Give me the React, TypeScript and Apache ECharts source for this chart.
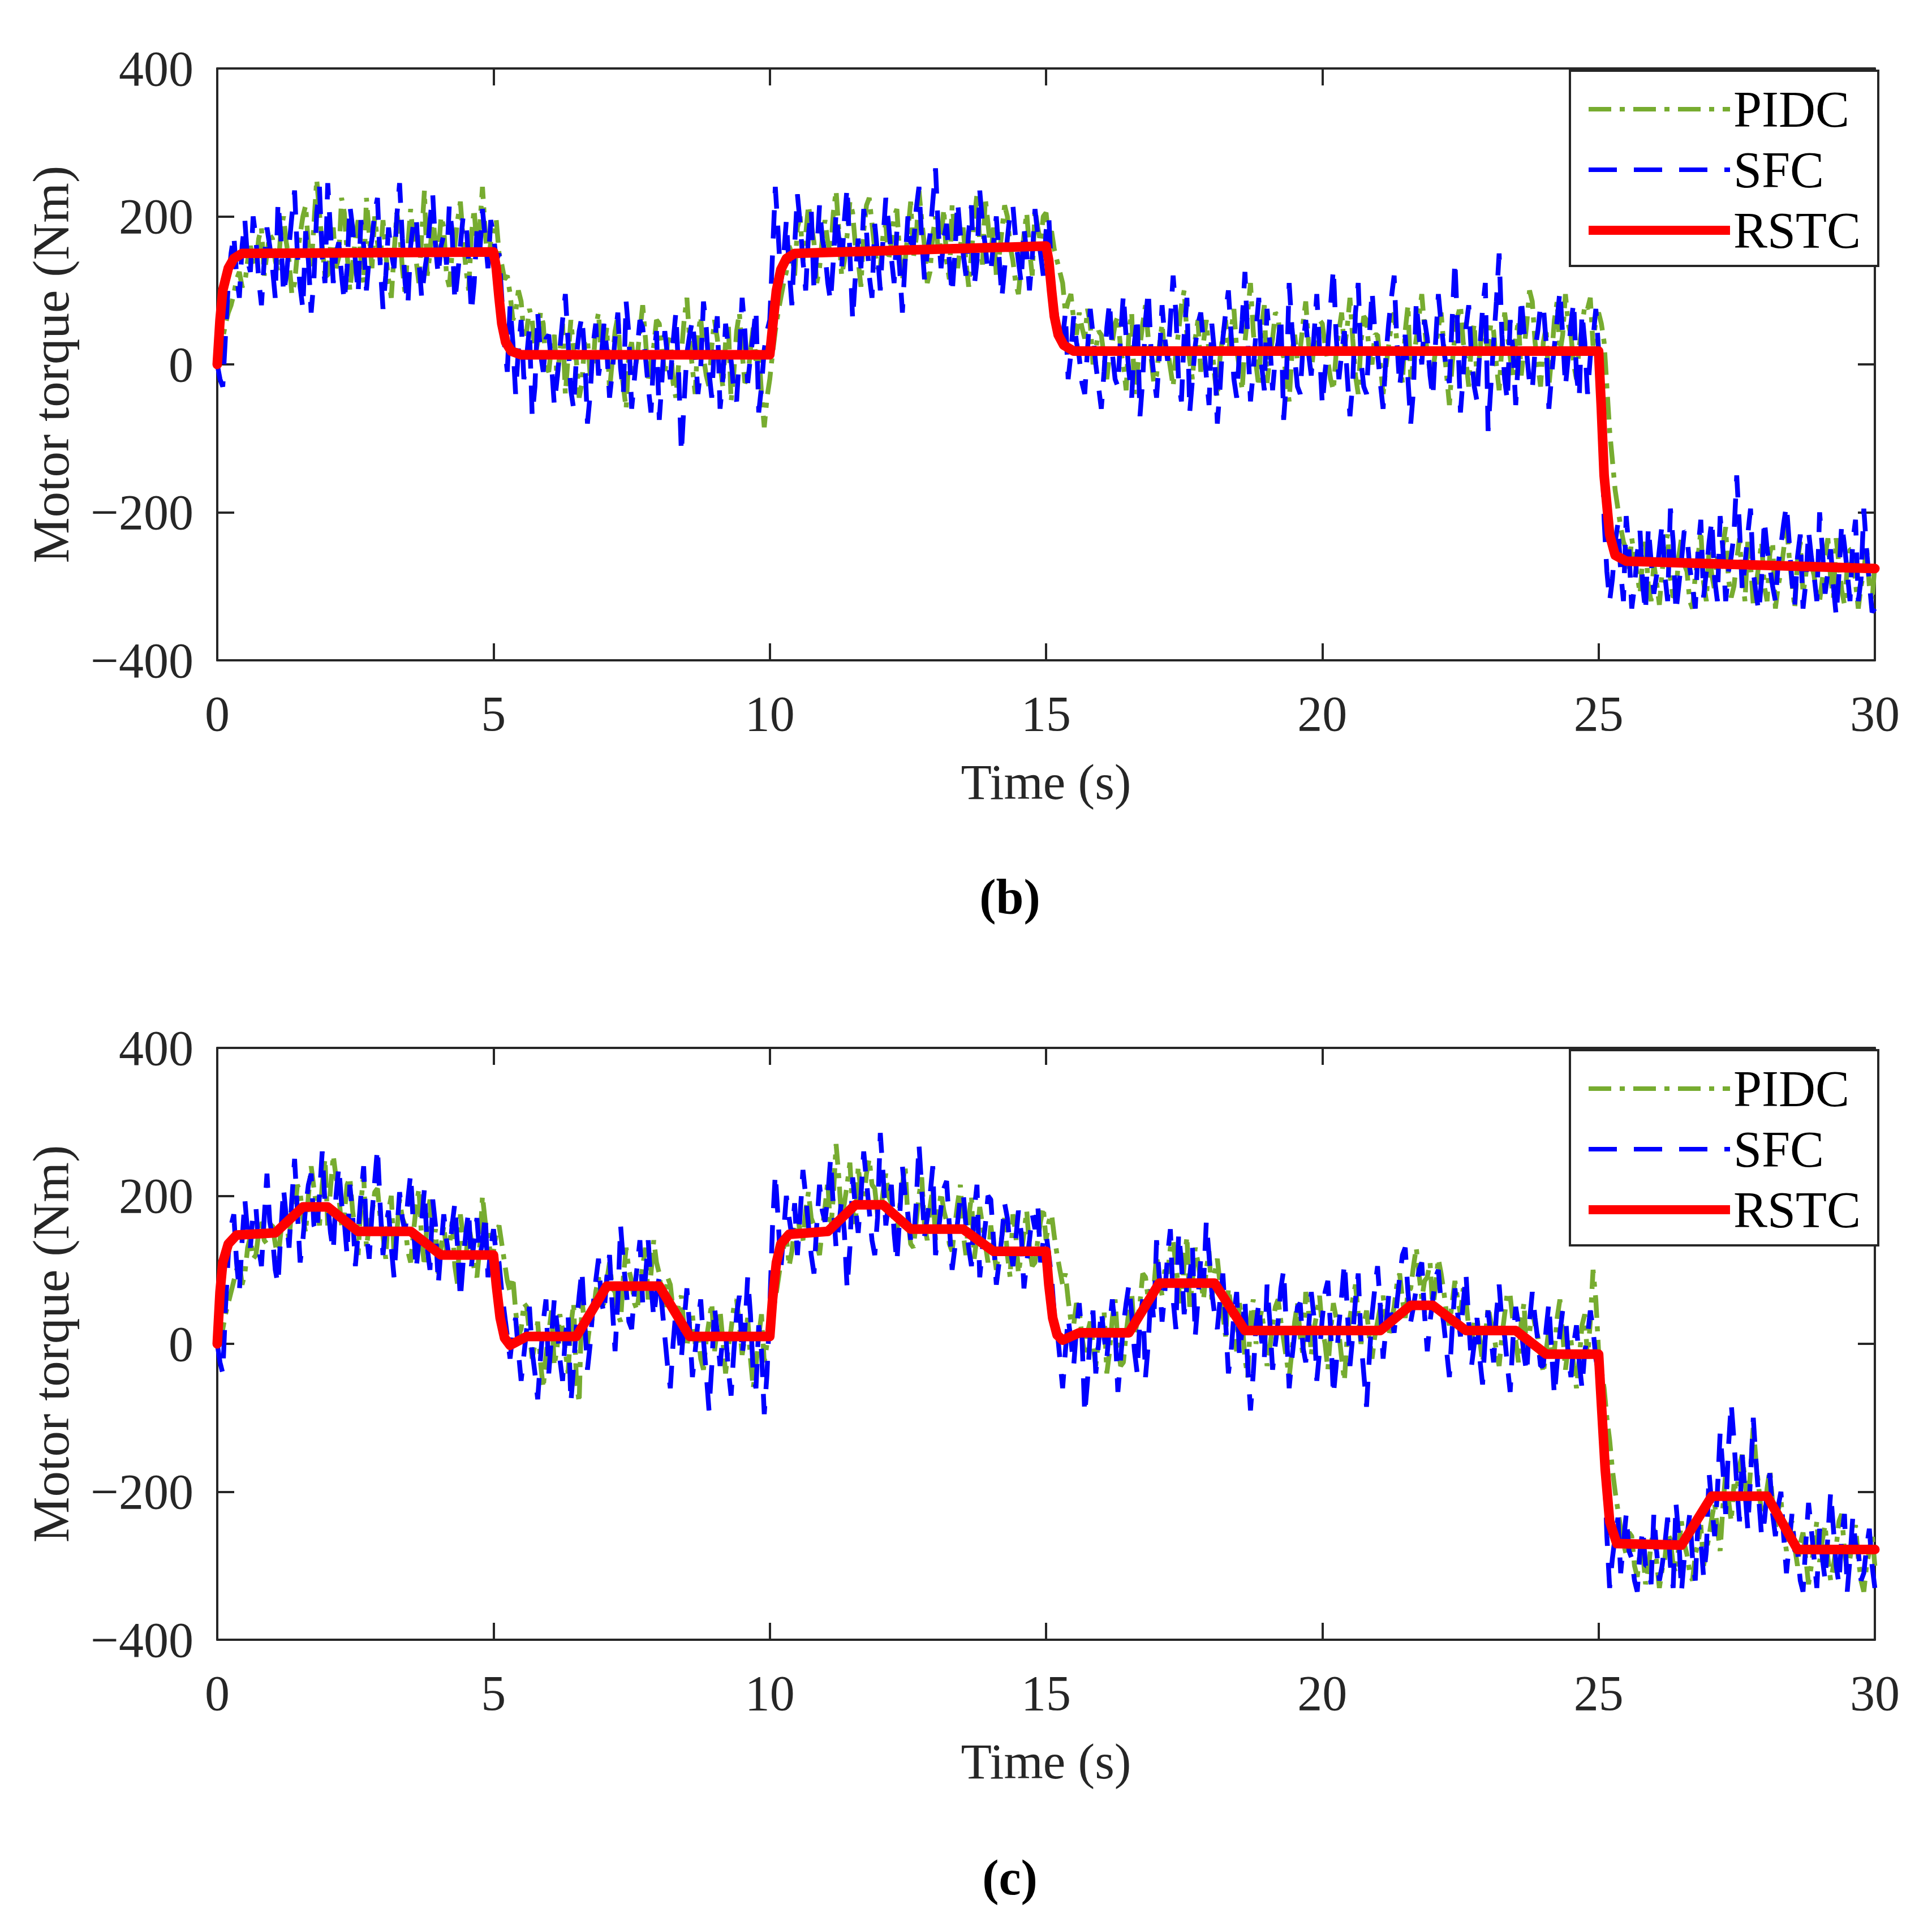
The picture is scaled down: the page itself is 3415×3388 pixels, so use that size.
import React, { useEffect, useRef } from "react";
import * as echarts from "echarts";

// ---------- data ----------
const DT = 0.05; // sampling step of the noisy traces (s)

const PIDC_B = [
  0, 15, 35, 55, 70, 80, 95, 115, 125, 105, 110, 140, 160, 145, 135, 170, 185, 120, 150, 175,
  170, 140, 125, 180, 200, 165, 140, 95, 110, 150, 175, 200, 215, 160, 130, 190, 250, 205, 160, 120,
  120, 160, 185, 130, 145, 225, 205, 150, 100, 135, 170, 195, 140, 110, 225, 175, 130, 200, 165, 140,
  195, 150, 115, 90, 150, 205, 180, 130, 95, 160, 210, 170, 140, 110, 175, 235, 120, 150, 200, 165,
  145, 200, 185, 120, 105, 150, 160, 195, 220, 170, 130, 100, 175, 210, 155, 185, 240, 180, 135, 165,
  170, 195, 150, 135, 115, 120, 95, 60, 70, 100, 85, 40, 45, 75, 60, 10, 30, 70, 55, -5,
  -10, 25, 40, -20, 15, 55, -40, 10, 60, 20, 5, -45, -25, 30, 35, -15, -5, 50, 70, 10,
  20, 50, -35, 5, 45, 65, 0, -30, -60, 15, 30, -10, 10, 45, 80, 35, -20, 5, 25, 60,
  55, 20, -15, 30, 35, -25, -45, 0, 15, 60, 90, 30, -5, -40, 40, 65, 10, -15, -30, 25,
  60, 35, 0, -30, 30, 55, -50, -10, 45, 70, 15, -25, -20, 20, 50, 5, 20, -40, -85, -45,
  -20, 15, 45, 70, 90, 110, 125, 160, 150, 120, 185, 200, 140, 175, 215, 190, 165, 110, 130, 170,
  195, 165, 150, 205, 235, 180, 120, 140, 175, 220, 205, 160, 140, 105, 180, 215, 225, 190, 155, 130,
  130, 175, 190, 140, 165, 200, 210, 150, 115, 140, 180, 220, 145, 170, 235, 195, 160, 110, 125, 175,
  200, 150, 170, 210, 140, 115, 215, 180, 130, 160, 185, 140, 105, 150, 195, 230, 165, 135, 225, 190,
  150, 185, 120, 145, 180, 215, 200, 160, 140, 110, 95, 135, 175, 205, 155, 120, 210, 185, 165, 200,
  205, 170, 180, 155, 140, 125, 110, 70, 85, 95, 60, 40, 70, 50, 35, 75, 55, 0, 20, 45,
  40, 10, -20, 15, 30, 55, 65, 20, 0, -35, 45, 70, -40, -10, 25, 55, 80, 35, 10, -25,
  -15, 25, 55, 10, 20, -5, -30, 15, 45, 80, 100, 40, 5, -20, 35, 60, -10, 30, 60, 15,
  25, -15, -45, 10, 40, 60, 15, 45, 75, 20, -5, -35, 30, 70, 110, 45, 0, -30, 50, 80,
  -25, 10, 35, 70, 65, 20, 10, -20, -50, 15, 40, 5, 20, 55, 85, 30, -10, 25, 30, 60,
  55, 25, 5, -20, -35, 15, 45, 70, 20, 50, 90, 35, -15, -40, 30, 65, 60, 15, 0, 40,
  40, 0, -40, -5, 25, 55, 70, 30, 10, -25, 45, 80, -20, 5, 35, 65, 95, 50, 15, -10,
  -10, 20, 50, 70, 25, -15, -55, 0, 40, 65, 80, 30, 5, -30, 30, 55, -25, 15, 60, 35,
  20, 55, 45, 0, -35, 25, 70, 40, 10, -20, 35, 60, -15, 20, 55, 100, 85, 30, 0, -30,
  30, 50, -30, 10, 60, 85, 15, 40, 95, 55, 40, 0, -20, 25, 50, 80, 75, 90, 25, 60,
  70, 55, 30, -30, -90, -130, -170, -195, -220, -240, -250, -280, -235, -260, -285, -310, -260, -240, -300, -320,
  -270, -295, -325, -280, -245, -230, -290, -315, -310, -260, -235, -270, -280, -320, -330, -285, -260, -225, -295, -320,
  -250, -285, -305, -260, -275, -245, -220, -290, -315, -300, -265, -235, -290, -320, -240, -270, -325, -300, -270, -240,
  -300, -320, -255, -240, -330, -300, -280, -250, -215, -260, -295, -330, -265, -240, -310, -285, -245, -270, -285, -315,
  -320, -290, -260, -235, -290, -315, -235, -270, -305, -325, -275, -250, -250, -295, -330, -300, -280, -245, -300, -320,
  -270,
];

const SFC_B = [
  0, -20, -30, 40, 110, 150, 175, 120, 90, 160, 195, 140, 125, 200, 170, 115, 80, 140, 185, 160,
  130, 90, 220, 175, 95, 120, 160, 200, 235, 150, 105, 75, 180, 140, 70, 115, 205, 240, 145, 110,
  245, 180, 110, 150, 165, 120, 85, 130, 215, 185, 140, 95, 195, 160, 100, 145, 170, 205, 225, 135,
  75, 120, 185, 150, 130, 200, 245, 170, 110, 80, 160, 190, 200, 140, 90, 125, 150, 195, 230, 160,
  120, 160, 175, 135, 215, 180, 85, 120, 160, 200, 195, 140, 70, 110, 180, 150, 210, 170, 130, 195,
  175, 140, 150, 90, 25, -10, 80, 30, -40, 20, 60, -20, 10, 50, -70, -30, 70, 15, -10, 35,
  40, 0, -55, -20, 20, 60, 95, 30, -35, -60, 10, 45, 65, 15, -80, -40, 25, 55, -15, 10,
  55, 20, -45, -10, 35, 70, -5, -40, 85, 40, -60, -20, 20, 60, 50, 10, -30, -65, 10, 45,
  -75, -20, 45, 10, -20, 30, 70, -10, -120, -50, 15, 40, 60, 20, -40, -5, 85, 50, -10, -45,
  30, 65, -60, -20, 55, 25, 5, -35, -50, 15, 90, 45, -25, 10, 40, 75, -65, -30, 20, 45,
  60, 150, 240, 180, 110, 145, 195, 130, 80, 160, 230, 190, 140, 100, 175, 210, 100, 150, 215, 170,
  150, 110, 85, 140, 205, 170, 130, 195, 240, 150, 60, 120, 170, 130, 210, 180, 120, 90, 190, 150,
  100, 170, 225, 190, 145, 110, 180, 130, 70, 140, 200, 165, 160, 210, 240, 170, 115, 150, 175, 220,
  265, 180, 130, 170, 190, 140, 95, 150, 220, 175, 150, 120, 180, 215, 105, 140, 235, 190, 160, 125,
  125, 165, 200, 145, 90, 130, 170, 205, 215, 170, 140, 110, 185, 150, 100, 145, 210, 175, 150, 120,
  180, 200, 120, 90, 60, 20, 35, 70, -20, 15, 65, 30, 10, -25, -40, 20, 75, 40, 0, -30,
  -60, -10, 50, 85, 15, -20, -30, 40, 95, 35, -10, -45, 30, 65, -70, -20, 60, 100, 20, -15,
  -45, 10, 80, 35, 5, 60, 120, 70, -25, -50, 40, 90, -65, -20, 25, 55, 70, 30, -15, -55,
  55, 15, -80, -30, 35, 70, 100, 40, -20, -45, 15, 60, 125, 35, -50, -10, 45, 90, 0, -35,
  75, 30, -35, 10, 30, 65, -75, -20, 110, 50, 10, -30, -40, 25, 60, 15, -15, 40, 95, 20,
  -55, -10, 25, 80, 130, 40, -20, 15, 45, -15, -70, -25, 70, 110, 5, -30, -40, 35, 100, 45,
  15, -25, -60, 10, 55, 90, 120, 30, -30, 5, 40, -20, -80, -35, 85, 40, 0, 60, 35, -15,
  -45, 30, 95, 55, 20, -10, -25, 60, 140, 45, -65, -15, 50, 80, 10, -30, -50, 20, 75, 110,
  -90, -30, 30, 85, 150, 40, -20, -50, 60, 20, -55, 10, 90, 45, 15, -25, -35, 20, 45, 80,
  80, 30, -60, -15, 25, 60, 100, 40, -30, 10, 55, 85, -15, -45, 70, 30, -40, 10, 35, 75,
  20, -60, -210, -280, -320, -290, -240, -215, -280, -320, -205, -250, -330, -300, -255, -225, -300, -335, -220, -265,
  -310, -285, -250, -215, -285, -320, -195, -240, -335, -300, -265, -225, -230, -275, -300, -330, -250, -210, -315, -280,
  -240, -210, -290, -320, -205, -250, -320, -280, -260, -230, -150, -220, -305, -270, -230, -195, -280, -310, -335, -290,
  -210, -250, -275, -300, -320, -270, -245, -215, -190, -240, -295, -325, -260, -230, -330, -295, -225, -260, -285, -320,
  -200, -250, -310, -280, -250, -300, -340, -285, -215, -245, -280, -320, -240, -210, -320, -290, -195, -250, -295, -335,
  -330,
];

const RSTC_B_T = [0, 0.05, 0.1, 0.2, 0.3, 0.45, 5.0, 5.05, 5.1, 5.15, 5.22, 5.32, 5.5, 10.0, 10.05, 10.12, 10.2, 10.3, 10.45, 15.0, 15.05, 15.1, 15.15, 15.22, 15.32, 15.5, 25.0, 25.05, 25.1, 25.2, 25.3, 25.5, 30.0];
const RSTC_B_V = [0, 60, 100, 130, 143, 150, 152, 130, 90, 55, 30, 18, 13, 13, 50, 100, 128, 143, 150, 160, 140, 100, 65, 40, 26, 18, 18, -60, -150, -230, -258, -266, -276];

const PIDC_C = [
  0, 10, 20, 40, 55, 70, 85, 100, 110, 80, 95, 130, 145, 115, 120, 150, 170, 140, 135, 160,
  160, 135, 115, 150, 190, 165, 140, 185, 175, 215, 205, 170, 150, 200, 240, 210, 185, 160, 215, 250,
  160, 210, 255, 225, 200, 160, 175, 215, 225, 180, 150, 120, 190, 230, 130, 160, 175, 205, 210, 170,
  145, 115, 180, 200, 120, 150, 195, 170, 160, 125, 110, 150, 185, 210, 140, 105, 170, 195, 125, 155,
  95, 130, 160, 125, 130, 165, 105, 80, 175, 145, 115, 160, 140, 100, 90, 130, 200, 165, 150, 115,
  125, 150, 160, 135, 110, 85, 70, 90, 45, 10, 20, 55, 50, 15, -20, 0, 30, -25, -60, -15,
  15, 45, -30, -5, 40, 20, -10, -40, 25, 55, -50, -80, 60, 25, 0, 30, 35, 70, 90, 50,
  55, 85, 110, 75, 70, 40, 30, 90, 130, 100, 85, 55, 45, 80, 105, 130, 60, 95, 140, 110,
  95, 60, 50, 90, 80, 45, 25, 55, 65, 20, -5, 30, 40, 0, 15, -20, -35, 5, 30, 55,
  -10, 20, 45, 5, -40, -5, 20, 50, 60, 25, -15, 10, 35, -20, -60, -30, 10, 40, -25, 0,
  30, 45, 60, 85, 110, 130, 145, 105, 125, 160, 175, 150, 140, 180, 205, 170, 160, 135, 120, 155,
  185, 220, 150, 200, 270, 225, 165, 190, 215, 245, 180, 160, 240, 205, 195, 230, 250, 215, 210, 175,
  175, 205, 230, 200, 190, 165, 150, 185, 215, 240, 170, 135, 130, 165, 200, 225, 160, 140, 185, 210,
  140, 175, 205, 180, 165, 135, 125, 160, 190, 215, 150, 120, 170, 200, 115, 145, 185, 160, 135, 110,
  160, 130, 100, 125, 145, 170, 120, 90, 175, 150, 95, 120, 150, 180, 130, 105, 110, 140, 165, 185,
  140, 165, 175, 145, 120, 100, 80, 95, 60, 30, 25, 55, 45, 10, -15, 15, 30, 0, -30, 5,
  20, 45, -40, -10, 35, 60, 0, -30, -25, 15, 45, 70, 10, 30, 55, 95, 90, 60, 40, 75,
  120, 90, 65, 100, 95, 130, 140, 105, 75, 55, 110, 145, 50, 85, 130, 110, 85, 60, 100, 125,
  60, 95, 115, 80, 40, 10, 75, 50, 15, -10, 55, 30, -20, -45, 35, 60, 0, 25, 45, 15,
  -30, -5, 25, 50, 60, 30, 5, -20, -45, -10, 30, 55, 10, -15, 70, 45, -15, 20, 40, 65,
  20, 0, -35, 15, 55, 35, 15, -20, -50, 10, 35, 60, 80, 40, 0, 25, 45, 10, -20, 10,
  30, 50, 65, 35, 10, 30, 50, 80, 95, 60, 35, 70, 75, 105, 130, 95, 60, 85, 90, 110,
  45, 80, 115, 95, 70, 40, 25, 55, 85, 60, 40, 75, 60, 20, 0, 30, 35, 5, -25, 10,
  50, 30, 15, -10, -30, 10, 40, 70, 65, 30, 5, -25, 30, 55, -20, 15, 45, 25, 10, -15,
  -40, -10, 20, -15, -10, 35, 60, 15, -35, -5, 5, -30, -60, -20, 25, 40, -20, 30, 100, 60,
  -10, -35, -60, -100, -130, -170, -200, -225, -250, -270, -285, -255, -260, -300, -315, -280, -280, -325, -305, -270,
  -250, -295, -330, -305, -290, -255, -265, -300, -310, -275, -240, -270, -285, -310, -320, -285, -270, -245, -300, -280,
  -260, -235, -215, -250, -280, -220, -175, -210, -240, -190, -200, -165, -150, -185, -225, -170, -110, -160, -195, -230,
  -230, -195, -170, -215, -250, -225, -210, -255, -280, -245, -240, -275, -300, -270, -255, -290, -325, -300, -270, -240,
  -295, -265, -245, -290, -320, -300, -275, -240, -230, -280, -310, -290, -265, -245, -290, -320, -335, -300, -280, -255,
  -300,
];

const SFC_C = [
  0, -25, -40, 50, 120, 160, 175, 110, 70, 140, 195, 150, 130, 180, 185, 130, 105, 170, 230, 165,
  145, 100, 80, 150, 210, 170, 130, 195, 250, 180, 110, 140, 185, 215, 230, 160, 150, 200, 260, 190,
  190, 150, 125, 200, 240, 190, 165, 120, 215, 175, 105, 150, 200, 240, 150, 115, 175, 220, 265, 185,
  120, 160, 180, 130, 90, 150, 205, 170, 150, 195, 230, 160, 100, 140, 165, 210, 130, 100, 195, 160,
  80, 130, 175, 140, 115, 160, 190, 130, 60, 110, 150, 180, 105, 140, 170, 120, 135, 175, 90, 130,
  155, 120, 110, 70, 40, 10, -20, 15, 35, -10, -50, -15, 20, 50, -10, -40, -75, -20, 30, 60,
  -40, 10, 60, 25, -20, -50, 10, 40, -80, -30, 25, 65, 100, 30, -35, 0, 50, 85, 115, 60,
  40, 90, 120, 50, -10, 60, 160, 110, 75, 30, 20, 70, 105, 140, 55, 90, 140, 80, 35, 70,
  90, 50, 10, -30, -60, 0, 45, 15, -20, 30, 75, 20, -45, -10, 30, 60, 5, -40, -90, -30,
  50, 15, -30, 10, 15, -35, -70, -10, 40, 65, -15, 20, 90, 40, -40, -60, 25, -10, -95, -40,
  50, 160, 230, 170, 100, 150, 200, 170, 145, 190, 120, 175, 235, 200, 160, 120, 95, 160, 215, 180,
  165, 200, 250, 185, 130, 160, 195, 150, 75, 130, 225, 185, 150, 200, 260, 220, 180, 140, 120, 170,
  285, 230, 160, 190, 215, 150, 110, 170, 240, 200, 175, 140, 135, 190, 270, 210, 145, 170, 200, 240,
  120, 150, 185, 210, 220, 160, 100, 130, 165, 200, 205, 160, 130, 105, 180, 215, 90, 130, 160, 200,
  195, 140, 80, 110, 145, 190, 170, 130, 105, 140, 180, 150, 75, 110, 140, 175, 155, 190, 110, 140,
  150, 120, 90, 40, 20, -20, -60, -10, 35, 5, -30, 20, 55, 10, -95, -50, 15, 45, -40, 0,
  45, 10, -20, 25, 60, 20, -65, -20, 25, 55, 80, 40, -10, -40, 35, 60, -45, 0, 75, 30,
  140, 90, 30, 70, 120, 155, 60, 20, 150, 110, 40, 80, 90, 130, 10, 60, 115, 80, 165, 120,
  70, 40, 20, 60, 95, 30, -40, -10, 40, 70, -15, 20, 60, -30, -90, -40, 25, 55, 5, -20,
  80, 30, -35, 0, 30, 75, 100, 20, -60, -20, 15, 50, 55, -5, -25, 20, 70, 35, -50, -10,
  35, 70, 85, 20, -70, -30, 25, 65, 110, 50, -30, 10, 60, 95, 5, -40, -85, -20, 40, 75,
  105, 50, -20, 20, 65, 35, 15, 55, 90, 120, 130, 70, 30, 50, 75, 100, 110, 40, -10, 30,
  60, 90, 100, 55, 25, -10, -45, 20, 75, 40, 10, 55, 95, 30, -30, 0, 35, -20, -55, 10,
  45, 10, -25, 40, 80, 30, 10, -30, -65, 5, 50, 25, 20, -15, -40, 30, 70, 35, 5, -30,
  -30, 20, 55, -10, -70, -25, 15, 45, 40, -15, -45, 0, 25, -25, -60, -10, 10, 45, 20, -20,
  -40, -100, -150, -260, -330, -290, -260, -235, -310, -270, -230, -280, -290, -320, -335, -280, -250, -300, -300, -325,
  -230, -280, -320, -300, -270, -235, -300, -330, -215, -260, -335, -290, -260, -230, -290, -320, -240, -265, -315, -280,
  -175, -220, -260, -200, -120, -170, -230, -140, -80, -130, -190, -240, -150, -200, -250, -180, -100, -160, -210, -260,
  -240, -200, -175, -230, -260, -220, -200, -260, -310, -270, -230, -280, -280, -320, -335, -270, -215, -250, -290, -330,
  -250, -290, -320, -260, -200, -250, -300, -325, -260, -230, -335, -290, -235, -270, -280, -320, -310, -275, -250, -300,
  -330,
];

const RSTC_C_T = [0, 0.05, 0.1, 0.2, 0.35, 1.05, 1.55, 2.0, 2.55, 3.5, 4.05, 5.0, 5.05, 5.12, 5.2, 5.3, 5.6, 6.5, 7.05, 8.0, 8.55, 10.0, 10.05, 10.12, 10.2, 10.35, 11.05, 11.55, 12.05, 12.55, 13.5, 14.05, 15.0, 15.05, 15.12, 15.2, 15.3, 15.6, 16.5, 17.05, 18.05, 18.6, 21.05, 21.6, 22.0, 22.6, 23.5, 24.05, 25.0, 25.05, 25.12, 25.2, 25.33, 26.5, 27.05, 28.05, 28.6, 30.0];
const RSTC_C_V = [0, 70, 110, 135, 147, 150, 185, 185, 152, 152, 120, 120, 80, 35, 8, -2, 10, 10, 78, 78, 10, 10, 60, 110, 135, 148, 152, 188, 188, 155, 155, 125, 125, 80, 35, 12, 5, 15, 15, 82, 82, 18, 18, 52, 52, 18, 18, -14, -14, -80, -170, -240, -270, -272, -206, -206, -278, -278];

const X_TICKS = [0, 5, 10, 15, 20, 25, 30];
const Y_TICKS = [-400, -200, 0, 200, 400];
const LEGEND_NAMES = ["PIDC", "SFC", "RSTC"];
const PANEL_LABELS = ["(b)", "(c)"];

// ---------- styling ----------
const W = 3415;
const H = 3388;
const FONT = "'Liberation Serif', 'Times New Roman', serif";
const AXIS_COLOR = "#262626";
const GREEN = "#77AC30";
const BLUE = "#0000FF";
const RED = "#FF0000";
const GREEN_DASH = [40, 15, 9, 15];
const BLUE_DASH = [50, 30];
const NOISE_W = 8.5;
const RED_W = 17;

const GRID_LEFT = 384;
const GRID_W = 2930;
const GRID_H = 1046;
const GRID_TOPS = [121, 1852];
const CAPTION_Y = [1585, 3318];

const noisy = (arr: number[]) => arr.map((v, i) => [Math.round(i * DT * 100) / 100, v]);
const keyed = (t: number[], v: number[]) => t.map((x, i) => [x, v[i]]);

function fmtY(v: number) {
  return v < 0 ? "\u2212" + Math.abs(v) : String(v);
}

export default function App() {
  const ref = useRef<HTMLDivElement>(null);

  useEffect(() => {
    document.body.style.margin = "0";
    if (!ref.current) return;
    const chart = echarts.init(ref.current, undefined, { renderer: "svg" });

    const grids = GRID_TOPS.map((top) => ({ left: GRID_LEFT, top, width: GRID_W, height: GRID_H }));

    const xAxes: any[] = [];
    const yAxes: any[] = [];
    const lineSt = { color: AXIS_COLOR, width: 4 };
    GRID_TOPS.forEach((_, g) => {
      xAxes.push({
        type: "value", gridIndex: g, position: "bottom", min: X_TICKS[0], max: X_TICKS[X_TICKS.length - 1], interval: 5,
        axisLine: { show: true, onZero: false, lineStyle: lineSt },
        axisTick: { show: true, inside: true, length: 30, lineStyle: lineSt },
        axisLabel: { show: true, fontFamily: FONT, fontSize: 88, color: AXIS_COLOR, margin: 50 },
        splitLine: { show: false },
        name: "Time (s)", nameLocation: "middle", nameGap: 170,
        nameTextStyle: { fontFamily: FONT, fontSize: 89, color: AXIS_COLOR },
      });
      xAxes.push({
        type: "value", gridIndex: g, position: "top", min: X_TICKS[0], max: X_TICKS[X_TICKS.length - 1], interval: 5,
        axisLine: { show: true, onZero: false, lineStyle: lineSt },
        axisTick: { show: true, inside: true, length: 30, lineStyle: lineSt },
        axisLabel: { show: false }, splitLine: { show: false },
      });
      yAxes.push({
        type: "value", gridIndex: g, position: "left", min: Y_TICKS[0], max: Y_TICKS[Y_TICKS.length - 1], interval: 200,
        axisLine: { show: true, onZero: false, lineStyle: lineSt },
        axisTick: { show: true, inside: true, length: 30, lineStyle: lineSt },
        axisLabel: { show: true, fontFamily: FONT, fontSize: 88, color: AXIS_COLOR, margin: 42, formatter: fmtY },
        splitLine: { show: false },
        name: "Motor torque (Nm)", nameLocation: "middle", nameGap: 248,
        nameTextStyle: { fontFamily: FONT, fontSize: 91, color: AXIS_COLOR },
      });
      yAxes.push({
        type: "value", gridIndex: g, position: "right", min: Y_TICKS[0], max: Y_TICKS[Y_TICKS.length - 1], interval: 200,
        axisLine: { show: true, onZero: false, lineStyle: lineSt },
        axisTick: { show: true, inside: true, length: 30, lineStyle: lineSt },
        axisLabel: { show: false }, splitLine: { show: false },
      });
    });

    const panels = [
      { pidc: PIDC_B, sfc: SFC_B, rt: RSTC_B_T, rv: RSTC_B_V },
      { pidc: PIDC_C, sfc: SFC_C, rt: RSTC_C_T, rv: RSTC_C_V },
    ];

    const series: any[] = [];
    panels.forEach((p, g) => {
      const common = { type: "line", xAxisIndex: g * 2, yAxisIndex: g * 2, showSymbol: false, symbol: "none", silent: true, clip: true };
      series.push({ ...common, name: LEGEND_NAMES[0], data: noisy(p.pidc), z: 2,
        lineStyle: { color: GREEN, width: NOISE_W, type: GREEN_DASH, cap: "butt", join: "bevel" } });
      series.push({ ...common, name: LEGEND_NAMES[1], data: noisy(p.sfc), z: 3,
        lineStyle: { color: BLUE, width: NOISE_W, type: BLUE_DASH, cap: "butt", join: "bevel" } });
      series.push({ ...common, name: LEGEND_NAMES[2], data: keyed(p.rt, p.rv), z: 4,
        lineStyle: { color: RED, width: RED_W, type: "solid", cap: "round", join: "round" } });
    });

    const graphic: any[] = [];
    GRID_TOPS.forEach((top, g) => {
      const off = top - GRID_TOPS[0];
      graphic.push({
        type: "rect", z: 100, shape: { x: 2775, y: 125 + off, width: 545, height: 345 },
        style: { fill: "#ffffff", stroke: AXIS_COLOR, lineWidth: 4 },
      });
      const rows = [193, 300, 407].map((y) => y + off);
      const styles = [
        { stroke: GREEN, lineWidth: 8, lineDash: GREEN_DASH },
        { stroke: BLUE, lineWidth: 8, lineDash: BLUE_DASH },
        { stroke: RED, lineWidth: 16 },
      ];
      rows.forEach((y, i) => {
        graphic.push({
          type: "line", z: 101, shape: { x1: 2808, y1: y, x2: 3058, y2: y },
          style: { ...styles[i], lineCap: "butt" },
        });
        graphic.push({
          type: "text", z: 101, x: 3064, y,
          style: { text: LEGEND_NAMES[i], font: `90px ${FONT}`, fill: "#000000", verticalAlign: "middle", textVerticalAlign: "middle" },
        });
      });
      graphic.push({
        type: "text", z: 101, x: 1785, y: CAPTION_Y[g],
        style: { text: PANEL_LABELS[g], font: `bold 88px ${FONT}`, fill: "#000000", align: "center", verticalAlign: "middle", textAlign: "center", textVerticalAlign: "middle" },
      });
    });

    chart.setOption({
      animation: false,
      backgroundColor: "#ffffff",
      grid: grids,
      xAxis: xAxes,
      yAxis: yAxes,
      series,
      graphic,
    });

    return () => chart.dispose();
  }, []);

  return <div ref={ref} style={{ width: W, height: H }} />;
}
